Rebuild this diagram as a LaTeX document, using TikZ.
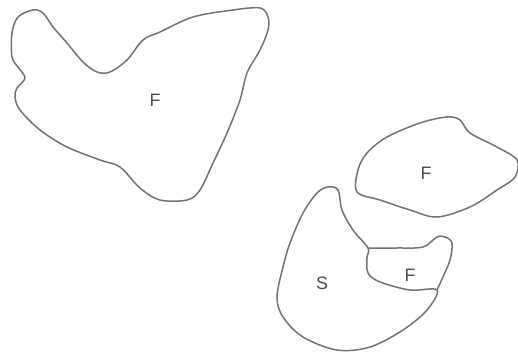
\documentclass[tikz,border=0pt]{standalone}
\usepackage{fontspec}
\setmainfont{Liberation Sans}
\usepackage{tikz}

\begin{document}
\begin{tikzpicture}[x=1pt, y=-1pt]
    \tikzset{blob/.style={draw=black!55, line width=1.5pt, line join=round},
        lbl/.style={text=black!70, font=\fontsize{18}{18}\selectfont}}
    \useasboundingbox (0,0) rectangle (518,352);
    
    % big region, top left
    \draw[blob] plot[smooth cycle, tension=0.55] coordinates {
        (33,10) (43,13) (53,27) (67,43) (83,62) (97,72) (110,72) (127,60)
        (143,40) (160,32) (193,17) (233,10) (260,8) (268,17) (268,30)
        (260,50) (247,73) (240,100) (227,133) (213,163) (200,190) (187,200)
        (160,200) (140,188) (120,167) (100,160) (67,147) (40,130) (20,110)
        (15,97) (17,88) (25,78) (18,67) (12,57) (12,33) (18,17)};
    
    % region on the right
    \draw[blob] plot[smooth cycle, tension=0.55] coordinates {
        (357,192) (358,170) (367,153) (387,137) (420,123) (447,117) (460,120)
        (470,133) (497,147) (517,160) (515,177) (497,190) (470,207) (437,217)
        (410,210) (380,200)};
    
    % S with the small region inside it
    \draw[blob] plot[smooth cycle, tension=0.55] coordinates {
        (328,187) (338,190) (342,210) (353,230) (368,248) (367,257) (368,273)
        (380,282) (410,290) (437,290) (427,310) (403,330) (370,347) (337,350)
        (303,337) (283,317) (277,297) (283,267) (290,243) (303,213) (317,193)};
    \draw[blob] plot[smooth, tension=0.55] coordinates {
        (368,248) (397,248) (423,247) (437,237) (445,237) (452,243) (450,260)
        (443,277) (437,290)};
    
    \node[lbl] (f1) at (155,100) {F};
    \node[lbl] (f2) at (426,173) {F};
    \node[lbl] (f3) at (410,275) {F};
    \node[lbl] (s1) at (322,283) {S};
\end{tikzpicture}
\end{document}
